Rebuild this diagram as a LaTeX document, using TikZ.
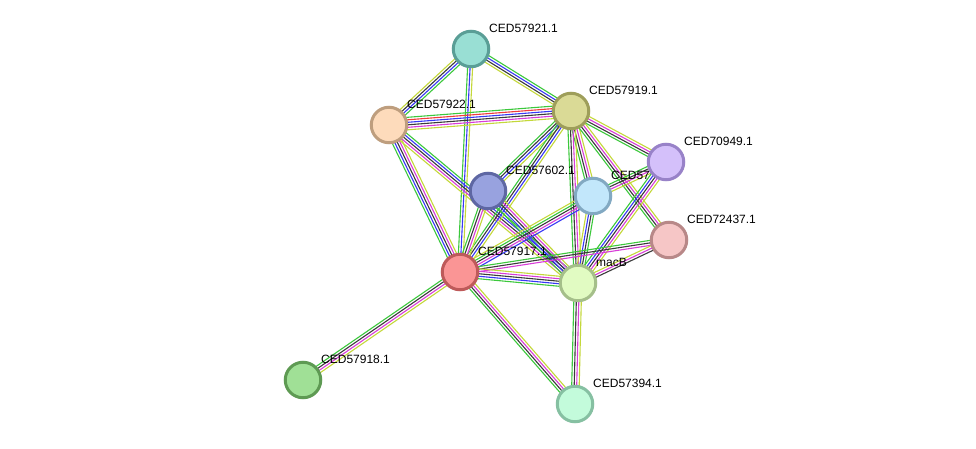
\documentclass[tikz,border=0pt]{standalone}
\usepackage{fontspec}
\setmainfont{Liberation Sans}
\usetikzlibrary{calc}
\pgfdeclarelayer{edges}
\pgfdeclarelayer{labels}
\pgfsetlayers{edges,labels,main}
\definecolor{eG}{HTML}{3CC83C}
\definecolor{eB}{HTML}{3838F5}
\definecolor{eK}{HTML}{3A3A3A}
\definecolor{eM}{HTML}{D83CD8}
\definecolor{eY}{HTML}{C4D83A}
\definecolor{eR}{HTML}{F03C3C}
\tikzset{
  prot/.style={circle, minimum size=35.5pt, inner sep=0pt, line width=3pt},
  lbl/.style={anchor=west, inner sep=0pt, font=\fontsize{12}{14}\selectfont, text=black},
  eline/.style={line width=1.1pt}
}
\newcommand{\sedge}[4]{%
  \foreach \c [count=\i] in {#4}{%
    \pgfmathsetlengthmacro\off{(\i-(#3+1)/2)*2.5pt}%
    \draw[eline,\c] ($(#1.center)!\off!90:(#2.center)$) -- ($(#2.center)!\off!-90:(#1.center)$);%
  }%
}
\newcommand{\plabel}[2]{\node[lbl] (l#1) at ($(#1.center)+(18,-21)$) {#2};}
\begin{document}
\begin{tikzpicture}[x=1pt,y=-1pt]
\useasboundingbox (0,0) rectangle (976,449);
% nodes
\node[prot, fill={rgb,255:red,153;green,223;blue,212}, draw={rgb,255:red,90;green,158;blue,150}] (n921) at (471,49) {};
\node[prot, fill={rgb,255:red,218;green,218;blue,150}, draw={rgb,255:red,158;green,158;blue,90}] (n919) at (571,111) {};
\node[prot, fill={rgb,255:red,253;green,219;blue,187}, draw={rgb,255:red,190;green,158;blue,126}] (n922) at (389,125) {};
\node[prot, fill={rgb,255:red,212;green,192;blue,250}, draw={rgb,255:red,152;green,130;blue,200}] (n949) at (666,162) {};
\node[prot, fill={rgb,255:red,152;green,162;blue,223}, draw={rgb,255:red,94;green,103;blue,163}] (n602) at (488,191) {};
\node[prot, fill={rgb,255:red,194;green,231;blue,251}, draw={rgb,255:red,130;green,169;blue,194}] (nlb) at (593,196) {};
\node[prot, fill={rgb,255:red,246;green,198;blue,198}, draw={rgb,255:red,184;green,136;blue,136}] (n437) at (669,240) {};
\node[prot, fill={rgb,255:red,250;green,149;blue,149}, draw={rgb,255:red,190;green,90;blue,90}] (n917) at (460,272) {};
\node[prot, fill={rgb,255:red,225;green,251;blue,194}, draw={rgb,255:red,165;green,191;blue,138}] (nmac) at (578,283) {};
\node[prot, fill={rgb,255:red,160;green,224;blue,150}, draw={rgb,255:red,94;green,154;blue,83}] (n918) at (303,380) {};
\node[prot, fill={rgb,255:red,195;green,251;blue,219}, draw={rgb,255:red,134;green,192;blue,162}] (n394) at (575,404) {};
% edges
\begin{pgfonlayer}{edges}
\fill[white] (0,0) rectangle (976,449);
\sedge{n921}{n922}{4}{eY,eK,eB,eG}
\sedge{n921}{n919}{4}{eY,eK,eB,eG}
\sedge{n921}{n917}{3}{eG,eB,eY}
\sedge{n922}{n919}{6}{eY,eM,eK,eB,eR,eG}
\sedge{n922}{n917}{5}{eG,eB,eK,eM,eY}
\sedge{n922}{nmac}{5}{eY,eM,eK,eB,eG}
\sedge{n919}{n602}{4}{eG,eK,eB,eY}
\sedge{n919}{n917}{4}{eG,eK,eB,eY}
\sedge{n919}{nlb}{4}{eG,eK,eM,eY}
\sedge{n919}{nmac}{4}{eG,eK,eM,eY}
\sedge{n919}{n949}{4}{eG,eK,eM,eY}
\sedge{n919}{n437}{4}{eG,eK,eM,eY}
\sedge{n602}{n917}{4}{eG,eK,eM,eY}
\sedge{n602}{nmac}{5}{eG,eB,eK,eM,eY}
\sedge{nlb}{n917}{5}{eY,eG,eK,eM,eB}
\sedge{nlb}{nmac}{4}{eY,eB,eK,eG}
\sedge{nlb}{n949}{4}{eY,eM,eK,eG}
\sedge{n949}{nmac}{5}{eG,eB,eK,eM,eY}
\sedge{n437}{n917}{3}{eG,eK,eM}
\sedge{n437}{nmac}{3}{eY,eM,eK}
\sedge{n917}{nmac}{5}{eG,eB,eK,eM,eY}
\sedge{n917}{n918}{4}{eG,eK,eM,eY}
\sedge{n917}{n394}{4}{eG,eK,eM,eY}
\sedge{nmac}{n394}{4}{eG,eK,eM,eY}
\end{pgfonlayer}
% labels
\begin{pgfonlayer}{labels}
\plabel{n921}{CED57921.1}
\plabel{n919}{CED57919.1}
\plabel{n922}{CED57922.1}
\plabel{n949}{CED70949.1}
\plabel{n602}{CED57602.1}
\plabel{nlb}{CED57}
\plabel{n437}{CED72437.1}
\plabel{n917}{CED57917.1}
\plabel{nmac}{macB}
\plabel{n918}{CED57918.1}
\plabel{n394}{CED57394.1}
\end{pgfonlayer}
\end{tikzpicture}
\end{document}
